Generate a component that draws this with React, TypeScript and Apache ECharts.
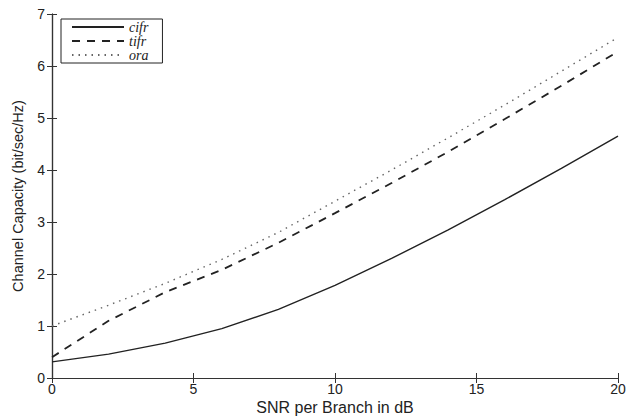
import React, { useEffect, useRef } from "react";
import * as echarts from "echarts";

const snr = [0, 2, 4, 6, 8, 10, 12, 14, 16, 18, 20];
const cifr = [0.31, 0.46, 0.67, 0.95, 1.32, 1.78, 2.3, 2.85, 3.43, 4.03, 4.65];
const tifr = [0.4, 1.1, 1.65, 2.08, 2.6, 3.17, 3.75, 4.35, 4.98, 5.62, 6.28];
const ora = [1.0, 1.4, 1.82, 2.28, 2.8, 3.4, 4.0, 4.62, 5.25, 5.9, 6.55];
const xTitle = "SNR per Branch in dB";
const yTitle = "Channel Capacity (bit/sec/Hz)";

const pair = (ys: number[]) => snr.map((x, i) => [x, ys[i]]);

export default function App() {
  const ref = useRef<HTMLDivElement>(null);
  useEffect(() => {
    if (!ref.current) return;
    const chart = echarts.init(ref.current, undefined, { renderer: "svg" });
    const axisCommon = {
      axisLine: { show: true, lineStyle: { color: "#333", width: 1.2 } },
      axisTick: { show: true, inside: true, length: 5, lineStyle: { color: "#333" } },
      splitLine: { show: false },
    };
    const font = "Liberation Sans, Arial, sans-serif";
    const labelStyle = { color: "#222", fontSize: 14, fontFamily: font };
    chart.setOption({
      animation: false,
      backgroundColor: "#fff",
      grid: { left: 52, right: 11, top: 14, bottom: 38, containLabel: false, outerBoundsMode: "none" },
      graphic: [
        {
          type: "text",
          x: 335,
          y: 407,
          style: {
            text: xTitle,
            fill: "#222",
            fontSize: 16,
            fontFamily: font,
            textAlign: "center",
            textVerticalAlign: "middle",
          },
        },
      ],
      legend: {
        orient: "vertical",
        left: 61,
        top: 19,
        itemWidth: 52,
        itemHeight: 12,
        itemGap: 0,
        padding: [1, 14, 1, 10],
        borderColor: "#222",
        borderWidth: 1,
        borderRadius: 0,
        backgroundColor: "#fff",
        itemStyle: { color: "rgba(0,0,0,0)", borderWidth: 0, opacity: 0 },
        textStyle: {
          fontFamily: "Liberation Serif, serif",
          fontStyle: "italic",
          fontSize: 14,
          color: "#222",
        },
        data: ["cifr", "tifr", "ora"],
      },
      xAxis: [
        {
          type: "value",
          min: 0,
          max: 20,
          interval: 5,
          ...axisCommon,
          axisLabel: { ...labelStyle, margin: 4 },
        },
        {
          type: "value",
          position: "top",
          min: 0,
          max: 20,
          interval: 5,
          ...axisCommon,
          axisLabel: { show: false },
        },
      ],
      yAxis: [
        {
          type: "value",
          min: 0,
          max: 7,
          interval: 1,
          ...axisCommon,
          axisLabel: { ...labelStyle, margin: 7 },
          name: yTitle,
          nameLocation: "middle",
          nameGap: 27,
          nameTextStyle: { ...labelStyle, fontSize: 14.5 },
        },
        {
          type: "value",
          position: "right",
          min: 0,
          max: 7,
          interval: 1,
          ...axisCommon,
          axisLabel: { show: false },
        },
      ],
      series: [
        {
          name: "cifr",
          type: "line",
          data: pair(cifr),
          symbol: "none",
          smooth: false,
          lineStyle: { color: "#222", width: 1.4, type: "solid" },
          itemStyle: { color: "#222" },
        },
        {
          name: "tifr",
          type: "line",
          data: pair(tifr),
          symbol: "none",
          lineStyle: { color: "#222", width: 1.8, type: [8, 7] },
          itemStyle: { color: "#222" },
        },
        {
          name: "ora",
          type: "line",
          data: pair(ora),
          symbol: "none",
          lineStyle: { color: "#666", width: 1.4, type: [1.5, 5] },
          itemStyle: { color: "#666" },
        },
      ],
    });
    return () => chart.dispose();
  }, []);
  return <div ref={ref} style={{ width: 629, height: 416, position: "absolute", left: 0, top: 0 }} />;
}
